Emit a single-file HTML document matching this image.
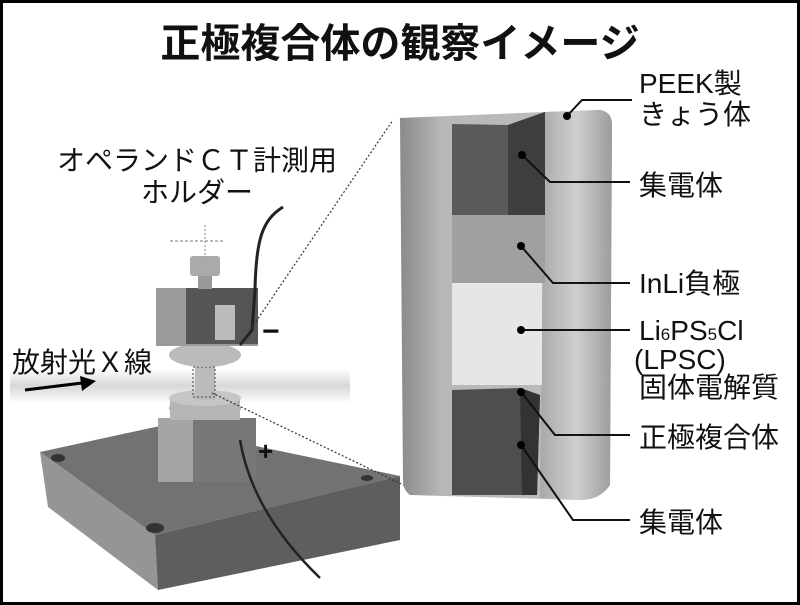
<!DOCTYPE html>
<html><head><meta charset="utf-8"><style>
html,body{margin:0;padding:0;background:#fff}
svg{display:block}
text{font-family:"Liberation Sans","Noto Sans CJK JP",sans-serif;fill:#111}
</style></head><body>
<svg width="800" height="605" viewBox="0 0 800 605" xmlns="http://www.w3.org/2000/svg">
<defs>
<linearGradient id="cyl" x1="0" x2="1" y1="0" y2="0">
<stop offset="0" stop-color="#8a8a8a"/><stop offset="0.2" stop-color="#b8b8b8"/><stop offset="1" stop-color="#bdbdbd"/></linearGradient>
<linearGradient id="rs" x1="0" x2="1"><stop offset="0" stop-color="#a8a8a8"/><stop offset="0.5" stop-color="#cfcfcf"/><stop offset="1" stop-color="#9c9c9c"/></linearGradient>
<linearGradient id="band" x1="0" x2="0" y1="0" y2="1"><stop offset="0" stop-color="#fff"/><stop offset="0.5" stop-color="#d8d8d8"/><stop offset="1" stop-color="#fff"/></linearGradient>
</defs>
<rect x="1.5" y="1.5" width="797" height="602" fill="#fff" stroke="#000" stroke-width="3"/>
<text x="400" y="57" font-size="40" font-weight="bold" text-anchor="middle">正極複合体の観察イメージ</text>

<rect x="10" y="368" width="340" height="36" fill="url(#band)"/>
<text x="197" y="170" font-size="28" text-anchor="middle">オペランドＣＴ計測用</text>
<text x="197" y="202" font-size="28" text-anchor="middle">ホルダー</text>
<text x="12" y="372" font-size="28">放射光Ｘ線</text>
<line x1="25" y1="390" x2="82" y2="383" stroke="#000" stroke-width="3"/>
<polygon points="80,376 96,381 82,391" fill="#000"/>

<polygon points="40,452 160,426 400,476 155,535" fill="#727272"/>
<polygon points="40,452 155,535 158,590 48,507" fill="#959595"/>
<polygon points="155,535 400,476 400,540 158,590" fill="#5e5e5e"/>
<ellipse cx="58" cy="458" rx="7" ry="4" fill="#333"/>
<ellipse cx="155" cy="528" rx="9" ry="5" fill="#333"/>
<ellipse cx="367" cy="478" rx="6" ry="3" fill="#333"/>
<rect x="158" y="418" width="98" height="64" fill="#777"/>
<rect x="158" y="418" width="35" height="64" fill="#a5a5a5"/>
<ellipse cx="205" cy="408" rx="36" ry="10" fill="#aaa"/>
<rect x="170" y="398" width="70" height="22" fill="#b5b5b5"/>
<ellipse cx="205" cy="398" rx="36" ry="8" fill="#c5c5c5"/>
<rect x="195" y="362" width="20" height="38" fill="#bbb"/>
<rect x="193" y="367" width="22" height="30" fill="none" stroke="#444" stroke-width="1" stroke-dasharray="2,2"/>
<ellipse cx="205" cy="355" rx="36" ry="12" fill="#bbb"/>
<rect x="156" y="288" width="102" height="58" fill="#9a9a9a"/>
<rect x="186" y="288" width="72" height="56" fill="#555"/>
<rect x="215" y="305" width="20" height="35" fill="#bbb"/>
<rect x="198" y="275" width="14" height="14" fill="#999"/>
<rect x="190" y="256" width="30" height="20" rx="3" fill="#aaa"/>
<line x1="170" y1="241" x2="225" y2="241" stroke="#bbb" stroke-width="2" stroke-dasharray="3,2"/>
<line x1="205" y1="225" x2="205" y2="258" stroke="#888" stroke-width="1" stroke-dasharray="2,2"/>
<path d="M283,207 C262,220 256,240 255,290 L252,330 L240,345" fill="none" stroke="#222" stroke-width="3"/>
<path d="M240,440 C245,470 260,520 320,578" fill="none" stroke="#222" stroke-width="2.5"/>
<text x="262" y="341" font-size="30" font-weight="bold">−</text>
<text x="258" y="460" font-size="26" font-weight="bold">+</text>

<line x1="240" y1="345" x2="393" y2="120" stroke="#333" stroke-width="1.2" stroke-dasharray="2,2"/>
<line x1="212" y1="393" x2="420" y2="493" stroke="#333" stroke-width="1.2" stroke-dasharray="2,2"/>

<path d="M400,118 L545,112 L600,110 Q612,112 612,125 L610,485 Q600,500 580,500 L410,495 Q403,490 403,480 Z" fill="url(#cyl)"/>
<path d="M545,112 L600,110 Q612,112 612,125 L610,485 Q600,500 580,500 L540,498 Z" fill="url(#rs)"/>
<polygon points="452,124 508,125 545,112 545,215 452,215" fill="#5a5a5a"/>
<polygon points="508,125 545,112 545,215 508,215" fill="#3e3e3e"/>
<rect x="452" y="215" width="93" height="68" fill="#a0a0a0"/>
<rect x="452" y="283" width="90" height="102" fill="#e6e6e6"/>
<polygon points="452,390 520,388 540,395 537,495 452,495" fill="#4e4e4e"/>
<polygon points="520,388 540,395 537,495 522,495" fill="#333"/>

<g stroke="#111" stroke-width="2" fill="none">
<polyline points="567,116 582,100 632,100"/>
<polyline points="522,155 550,182 630,182"/>
<polyline points="521,246 553,283 630,283"/>
<polyline points="521,330 630,330"/>
<polyline points="521,392 555,435 630,435"/>
<polyline points="521,445 573,520 630,520"/>
</g>
<g fill="#000">
<circle cx="567" cy="116" r="4"/><circle cx="522" cy="155" r="4"/><circle cx="521" cy="246" r="4"/>
<circle cx="521" cy="330" r="4"/><circle cx="521" cy="392" r="4"/><circle cx="521" cy="445" r="4"/>
</g>
<g font-size="28">
<text x="639" y="93">PEEK製</text>
<text x="639" y="124">きょう体</text>
<text x="639" y="195">集電体</text>
<text x="639" y="293">InLi負極</text>
<text x="639" y="340">Li<tspan font-size="17">6</tspan>PS<tspan font-size="17">5</tspan>Cl</text>
<text x="634" y="369">(LPSC)</text>
<text x="639" y="397">固体電解質</text>
<text x="639" y="447">正極複合体</text>
<text x="639" y="532">集電体</text>
</g>
</svg>
</body></html>
